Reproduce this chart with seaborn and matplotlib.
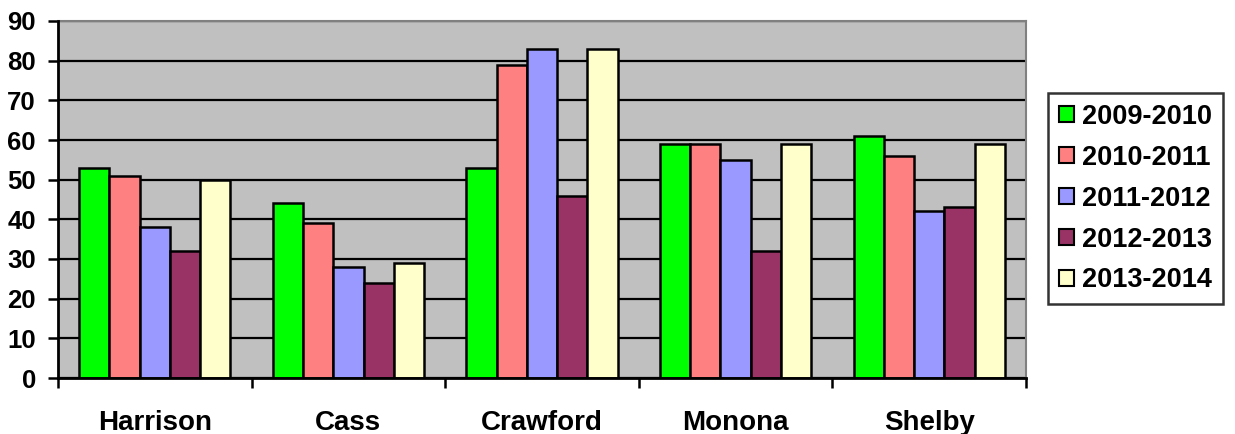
import matplotlib
matplotlib.use("Agg")
import matplotlib.pyplot as plt
import seaborn as sns
import pandas as pd
from matplotlib.patches import Patch

counties = ["Harrison", "Cass", "Crawford", "Monona", "Shelby"]
years = ["2009-2010", "2010-2011", "2011-2012", "2012-2013", "2013-2014"]
v2009 = [53, 44, 53, 59, 61]
v2010 = [51, 39, 79, 59, 56]
v2011 = [38, 28, 83, 55, 42]
v2012 = [32, 24, 46, 32, 43]
v2013 = [50, 29, 83, 59, 59]
colors = ["#00FF00", "#FF8080", "#9999FF", "#993366", "#FFFFCC"]

series = [v2009, v2010, v2011, v2012, v2013]
rows = []
for y, vals in zip(years, series):
    for c, v in zip(counties, vals):
        rows.append({"County": c, "Year": y, "Value": v})
df = pd.DataFrame(rows)

sns.set_style("white")
plt.rcParams["font.family"] = ["Liberation Sans", "DejaVu Sans"]
plt.rcParams["font.weight"] = "bold"
plt.rcParams["text.color"] = "black"
plt.rcParams["xtick.color"] = "black"
plt.rcParams["ytick.color"] = "black"

fig = plt.figure(figsize=(12.35, 4.34), dpi=100)
ax = fig.add_axes([58/1235, 1-378/434, (1026-58)/1235, (378-21)/434])
ax.set_facecolor("#C0C0C0")

sns.barplot(data=df, x="County", y="Value", hue="Year", order=counties,
            hue_order=years, palette=colors, saturation=1, width=0.78, gap=0,
            edgecolor="black", linewidth=1.8, ax=ax, legend=False, zorder=3)

ax.set_ylim(0, 90)
ax.set_xlim(-0.5, 4.5)
ax.set_yticks(range(0, 91, 10))
ax.yaxis.grid(True, color="black", linewidth=1.6, zorder=0)
ax.set_axisbelow(True)
ax.set_xlabel("")
ax.set_ylabel("")

for s in ["top", "right"]:
    ax.spines[s].set_color("#808080")
    ax.spines[s].set_linewidth(1.5)
for s in ["left", "bottom"]:
    ax.spines[s].set_color("black")
    ax.spines[s].set_linewidth(2)
    ax.spines[s].set_zorder(5)

ax.tick_params(axis="y", which="major", length=7, width=1.8, color="black",
               labelcolor="black", direction="out", left=True, pad=9, labelsize=18.5)
ax.set_xticks(range(len(counties)))
ax.set_xticklabels(counties, fontsize=20, fontweight="bold", color="black")
ax.tick_params(axis="x", which="major", length=0, pad=23)
ax.set_xticks([i - 0.5 for i in range(len(counties) + 1)], minor=True)
ax.tick_params(axis="x", which="minor", length=7, width=1.8, color="black",
               direction="out", bottom=True)
for lbl in ax.get_yticklabels():
    lbl.set_fontweight("bold")

handles = [Patch(facecolor=c, edgecolor="black", linewidth=1.5) for c in colors]
leg = fig.legend(handles, years, loc="upper left",
                 bbox_to_anchor=(1048/1235, 1-93/434),
                 prop={"weight": "bold", "size": 19.5},
                 frameon=True, fancybox=False, shadow=False,
                 handlelength=0.55, handleheight=0.55, handletextpad=0.3,
                 labelspacing=0.55, borderpad=0.4, borderaxespad=0)
leg.get_frame().set_edgecolor("black")
leg.get_frame().set_linewidth(1.8)
leg.get_frame().set_facecolor("white")
for t in leg.get_texts():
    t.set_color("black")

fig.savefig("out.png", dpi=100, facecolor="white")
